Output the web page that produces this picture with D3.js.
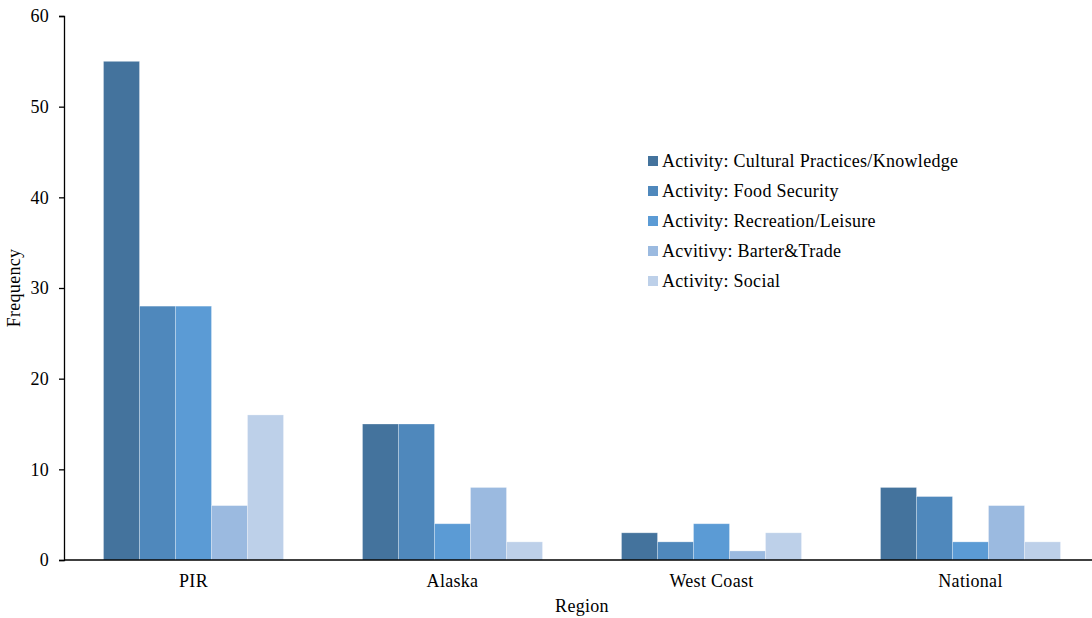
<!DOCTYPE html>
<html>
<head>
<meta charset="utf-8">
<script src="https://cdn.jsdelivr.net/npm/d3@7"></script>
<style>
  html, body { margin: 0; padding: 0; background: #fff; }
  svg { display: block; }
  svg text { font-family: "Liberation Serif", "Times New Roman", serif; letter-spacing: 0.3px; }
</style>
</head>
<body>
<svg id="chart" width="1092" height="618"></svg>
<script>
// Regions along the x axis
const regions = ["PIR", "Alaska", "West Coast", "National"];

// Activity series (legend labels kept as printed)
const seriesNames = [
  "Activity: Cultural Practices/Knowledge",
  "Activity: Food Security",
  "Activity: Recreation/Leisure",
  "Acvitivy: Barter&Trade",
  "Activity: Social"
];

// Frequencies per series, ordered by region
const culturalPractices = [55, 15, 3, 8];
const foodSecurity      = [28, 15, 2, 7];
const recreation        = [28, 4, 4, 2];
const barterTrade       = [6, 8, 1, 6];
const social            = [16, 2, 3, 2];

const seriesValues = [culturalPractices, foodSecurity, recreation, barterTrade, social];

const yTicks = [0, 10, 20, 30, 40, 50, 60];

const colors = ["#44739d", "#4f88bc", "#5b9bd5", "#9bbae0", "#bdd0e9"];

const svg = d3.select("#chart");
const plotLeft = 64, plotRight = 1100, plotTop = 16, plotBottom = 560;
const fontSize = 18;

const x = d3.scaleBand()
  .domain(regions)
  .range([plotLeft, plotRight])
  .paddingInner(0.305)
  .paddingOuter(0.1525);

const xSub = d3.scaleBand()
  .domain(d3.range(seriesNames.length))
  .range([0, x.bandwidth()]);

const y = d3.scaleLinear().domain([0, 60]).range([plotBottom, plotTop]);

// Bars
const groups = svg.append("g")
  .selectAll("g")
  .data(regions)
  .join("g")
  .attr("transform", d => `translate(${x(d)},0)`);

groups.selectAll("rect")
  .data((d, ri) => seriesValues.map((vals, si) => ({ si, v: vals[ri] })))
  .join("rect")
  .attr("x", d => xSub(d.si))
  .attr("y", d => y(d.v))
  .attr("width", xSub.bandwidth())
  .attr("height", d => plotBottom - y(d.v))
  .attr("fill", d => colors[d.si])
  .attr("stroke", "rgba(255,255,255,0.35)")
  .attr("stroke-width", 0.8);

// Y axis
const yAxis = svg.append("g")
  .attr("transform", `translate(${plotLeft},0)`)
  .call(d3.axisLeft(y).tickValues(yTicks).tickSize(5).tickPadding(10));
yAxis.attr("font-family", null);
yAxis.select(".domain").attr("stroke", "#000").attr("stroke-width", 1.3);
yAxis.selectAll(".tick line").attr("stroke", "#000").attr("stroke-width", 1.3);
yAxis.selectAll("text")
  .attr("font-size", fontSize)
  .attr("fill", "#000");

// X axis
const xAxis = svg.append("g")
  .attr("transform", `translate(0,${plotBottom})`)
  .call(d3.axisBottom(x).tickSize(0).tickPadding(14));
xAxis.attr("font-family", null);
xAxis.select(".domain").attr("stroke", "#000").attr("stroke-width", 1.3)
  .attr("d", `M${plotLeft},0H1092`);
xAxis.selectAll("text")
  .attr("font-size", fontSize)
  .attr("fill", "#000");

// Axis titles
svg.append("text")
  .attr("transform", "translate(20,288) rotate(-90)")
  .attr("text-anchor", "middle")
  .attr("font-size", fontSize)
  .text("Frequency");

svg.append("text")
  .attr("x", 582)
  .attr("y", 612)
  .attr("text-anchor", "middle")
  .attr("font-size", fontSize)
  .text("Region");

// Legend
const legend = svg.append("g").attr("transform", "translate(648,156)");
const item = legend.selectAll("g")
  .data(seriesNames)
  .join("g")
  .attr("transform", (d, i) => `translate(0,${i * 30})`);
item.append("rect")
  .attr("width", 10).attr("height", 10)
  .attr("fill", (d, i) => colors[i]);
item.append("text")
  .attr("x", 14)
  .attr("y", 10.5)
  .attr("font-size", fontSize)
  .attr("fill", "#000")
  .text(d => d);
</script>
</body>
</html>
